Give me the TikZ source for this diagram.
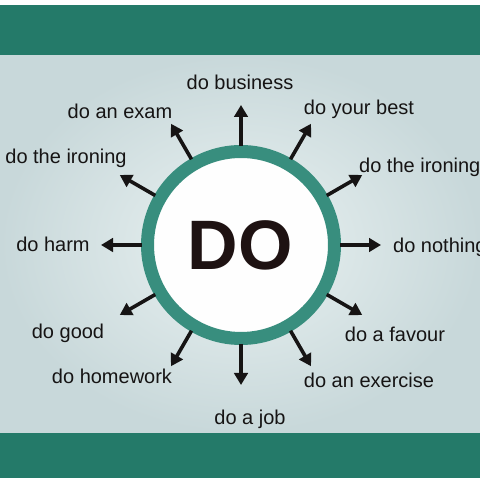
\documentclass[tikz,border=0pt]{standalone}
\usepackage{fontspec}
\setmainfont{Liberation Sans}
\usetikzlibrary{arrows.meta,calc}
\definecolor{band}{RGB}{36,122,105}
\definecolor{ring}{RGB}{56,142,126}
\definecolor{bglight}{RGB}{234,242,242}
\definecolor{bgdark}{RGB}{200,216,218}
\definecolor{ink}{RGB}{22,20,20}
\definecolor{doink}{RGB}{30,18,18}
\tikzset{
  lbl/.style={anchor=base, font=\fontsize{20}{24}\selectfont, text=ink, inner sep=0pt},
  lblw/.style={lbl, anchor=base west},
  ray/.style={line width=3.6pt, draw=ink, -{Triangle[length=12pt,width=13.5pt]}},
}
\begin{document}
\begin{tikzpicture}[x=1pt,y=1pt]
\useasboundingbox (0,0) rectangle (480,480);
\fill[white] (0,0) rectangle (480,480);
% background gradient
\shade[inner color=bglight, outer color=bgdark] (0,47) rectangle (480,425);
% bands
\fill[band] (0,425) rectangle (480,475);
\fill[band] (0,2) rectangle (480,47);
% circle
\coordinate (c) at (241,235);
\node[circle, minimum size=187pt, fill=white!96!bglight, draw=ring, line width=13pt, inner sep=0pt] (do) at (c) {};
\node[anchor=base, font=\fontsize{70}{80}\selectfont\bfseries, text=doink, inner sep=0pt] (dotext) at (240,210) {DO};
% arrows
\foreach \a in {0,30,...,330}{
  \coordinate (s\a) at ($(c)+(\a:99)$);
  \coordinate (t\a) at ($(c)+(\a:140)$);
  \draw[ray] (s\a) -- (t\a);
}
% labels
\node[lbl] (l1) at (240,390) {do business};
\node[lbl] (l2) at (120,361) {do an exam};
\node[lbl] (l3) at (359,365) {do your best};
\node[lbl] (l4) at (66,316) {do the ironing};
\node[lblw] (l5) at (359,307) {do the ironing};
\node[lbl] (l6) at (53,228) {do harm};
\node[lblw] (l7) at (393,227) {do nothing};
\node[lbl] (l8) at (68,141) {do good};
\node[lbl] (l9) at (395,138) {do a favour};
\node[lbl] (l10) at (112,96) {do homework};
\node[lbl] (l11) at (369,92) {do an exercise};
\node[lbl] (l12) at (250,56) {do a job};
\end{tikzpicture}
\end{document}
